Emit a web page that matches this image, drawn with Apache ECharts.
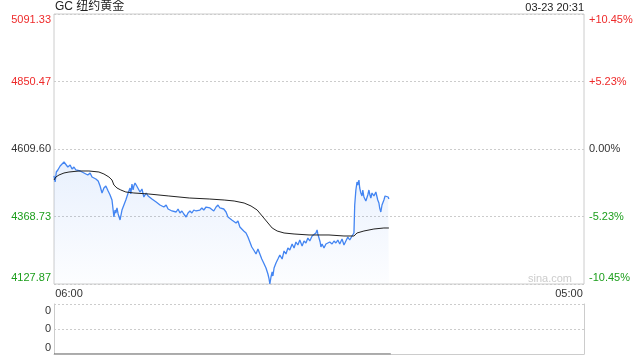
<!DOCTYPE html>
<html><head><meta charset="utf-8">
<script src="https://cdn.jsdelivr.net/npm/echarts@6/dist/echarts.min.js"></script>
<style>html,body{margin:0;padding:0;background:#fff}#c{width:640px;height:360px}</style>
</head><body><div id="c"></div>
<script>
const chartTitle = 'GC 纽约黄金';
const stamp = '03-23 20:31';
const watermark = 'sina.com';
const prevClose = 4609.60;
const priceMin = 4127.87;
const priceMax = 5091.33;
const leftLabels = ['4127.87', '4368.73', '4609.60', '4850.47', '5091.33'];
const rightLabels = ['-10.45%', '-5.23%', '0.00%', '+5.23%', '+10.45%'];
const xLabels = ['06:00', '05:00'];
const sessionMinutes = 1380;
const volLabels = ['0', '0', '0'];

const priceTimes = [0,3,6,10,16,21,26,31,36,42,47,52,57,62,68,73,78,83,88,94,99,104,109,115,120,125,130,135,141,146,151,154,156,159,161,164,167,172,177,182,187,193,198,200,203,206,208,211,214,219,224,229,234,240,245,250,255,260,266,271,276,281,286,292,297,302,307,312,318,323,328,333,338,344,349,354,359,364,370,375,380,385,390,396,401,406,411,416,422,427,432,437,442,448,453,458,463,468,474,479,484,489,494,500,505,510,515,520,526,531,536,541,546,552,557,560,562,565,568,570,573,578,583,588,594,599,604,609,614,620,625,630,635,640,646,651,656,661,666,672,677,682,685,687,690,693,695,698,703,708,713,718,724,729,734,739,744,750,755,760,765,770,776,781,783,786,789,791,794,796,799,802,804,807,812,817,820,822,825,828,833,838,843,846,848,851,854,859,862,864,867,870,872];
const prices = [4513.3,4491.9,4527.5,4534.7,4548.9,4552.5,4563.2,4556.1,4545.4,4552.5,4538.2,4545.4,4534.7,4541.8,4531.1,4538.2,4524.0,4531.1,4516.8,4524.0,4509.7,4516.8,4502.6,4495.4,4477.6,4452.6,4470.4,4477.6,4459.7,4445.5,4427.6,4391.9,4366.9,4391.9,4381.2,4399.1,4377.7,4356.3,4391.9,4409.8,4427.6,4452.6,4470.4,4449.0,4484.7,4463.3,4477.6,4488.3,4481.1,4474.0,4456.2,4466.9,4438.3,4452.6,4441.9,4449.0,4431.2,4438.3,4420.5,4427.6,4409.8,4416.9,4402.6,4409.8,4395.5,4402.6,4388.4,4395.5,4384.8,4395.5,4381.2,4388.4,4377.7,4366.9,4381.2,4388.4,4381.2,4391.9,4388.4,4395.5,4391.9,4399.1,4391.9,4402.6,4395.5,4399.1,4406.2,4388.4,4402.6,4409.8,4399.1,4406.2,4395.5,4384.8,4366.9,4374.0,4356.3,4363.4,4345.5,4352.7,4331.3,4338.4,4317.0,4309.9,4295.6,4277.8,4259.9,4249.2,4235.0,4252.8,4235.0,4217.1,4202.9,4185.0,4163.6,4145.8,4127.9,4152.9,4170.7,4156.4,4185.0,4202.9,4217.1,4231.4,4217.1,4245.6,4235.0,4256.4,4249.2,4270.6,4256.4,4277.8,4267.1,4284.9,4263.5,4281.4,4274.2,4292.1,4281.4,4299.2,4295.6,4309.9,4320.6,4306.3,4292.1,4277.8,4259.9,4270.6,4256.4,4270.6,4263.5,4277.8,4270.6,4281.4,4274.2,4284.9,4270.6,4288.5,4267.1,4281.4,4295.6,4284.9,4299.2,4309.9,4409.8,4463.3,4491.9,4481.1,4498.9,4470.4,4452.6,4441.9,4463.3,4438.3,4424.1,4445.5,4463.3,4449.0,4434.8,4452.6,4441.9,4456.2,4427.6,4416.9,4399.1,4384.8,4409.8,4427.6,4441.9,4445.5,4434.8,4438.3,4431.2];

const avgTimes = [0,5,13,26,39,65,91,117,130,143,151,156,164,174,187,208,247,299,352,404,443,469,495,513,529,542,555,568,581,599,625,664,716,755,781,789,807,833,859,872];
const avgPrices = [4499.0,4509.7,4516.8,4524.0,4527.5,4531.1,4531.1,4527.5,4520.4,4509.7,4499.0,4481.1,4470.4,4463.3,4456.2,4452.6,4449.0,4441.9,4434.8,4431.2,4427.6,4424.1,4416.9,4406.2,4391.9,4370.5,4349.1,4327.7,4317.0,4309.9,4306.3,4302.8,4302.8,4299.2,4299.2,4309.9,4317.0,4324.1,4327.7,4327.7];

const volTimes = [0, 877];
const volValues = [0, 0];

// y plotted as offset from previous close so ticks line up on the axis scale
const half = priceMax - prevClose;
const step = half / 2;
const priceData = priceTimes.map((t, i) => [t, prices[i] - prevClose]);
const avgData = avgTimes.map((t, i) => [t, avgPrices[i] - prevClose]);
const volData = volTimes.map((t, i) => [t, volValues[i]]);

const RED = '#ee2a2a', GREEN = '#1c9e1c', DARK = '#333';
const FONT = 'Arial, "Liberation Sans", Helvetica, sans-serif';

const richY = {
  upT: {color: RED, padding: [12, 0, 0, 0], fontSize: 11, fontFamily: FONT},
  up: {color: RED, fontSize: 11, fontFamily: FONT},
  mid: {color: DARK, fontSize: 11, fontFamily: FONT},
  dn: {color: GREEN, fontSize: 11, fontFamily: FONT},
  dnB: {color: GREEN, padding: [0, 0, 12, 0], fontSize: 11, fontFamily: FONT}
};
const keyFor = ['dnB', 'dn', 'mid', 'up', 'upT'];

const chart = echarts.init(document.getElementById('c'), null, {renderer: 'canvas'});
chart.setOption({
  animation: false,
  backgroundColor: '#fff',
  textStyle: {fontFamily: FONT},
  grid: [
    {left: 54, width: 530, top: 14, height: 270, show: true, borderColor: '#ccc', borderWidth: 1, containLabel: false},
    {left: 54, width: 530, top: 304, height: 50, containLabel: false}
  ],
  xAxis: [
    {type: 'value', gridIndex: 0, min: 0, max: sessionMinutes, interval: sessionMinutes,
     axisLine: {show: false}, axisTick: {show: false}, splitLine: {show: false},
     axisLabel: {margin: 4, fontSize: 11, color: DARK, fontFamily: FONT,
       formatter: (v) => v === 0 ? '{l|' + xLabels[0] + '}' : '{r|' + xLabels[1] + '}',
       rich: {l: {padding: [0, 0, 0, 30], fontSize: 11, color: DARK, fontFamily: FONT},
              r: {padding: [0, 30, 0, 0], fontSize: 11, color: DARK, fontFamily: FONT}}}},
    {type: 'value', gridIndex: 1, min: 0, max: sessionMinutes,
     axisLine: {show: true, lineStyle: {color: '#ccc'}}, axisTick: {show: false},
     splitLine: {show: false}, axisLabel: {show: false}}
  ],
  yAxis: [
    {type: 'value', gridIndex: 0, min: -half, max: half, interval: step,
     axisLine: {show: false}, axisTick: {show: false},
     splitLine: {show: true, lineStyle: {color: '#ccc', type: [2, 2], width: 1}},
     axisLabel: {margin: 3, fontSize: 11, fontFamily: FONT,
       formatter: (v, i) => '{' + keyFor[i] + '|' + leftLabels[i] + '}', rich: richY}},
    {type: 'value', gridIndex: 0, position: 'right', min: -half, max: half, interval: step,
     axisLine: {show: false}, axisTick: {show: false}, splitLine: {show: false},
     axisLabel: {margin: 5, fontSize: 11, fontFamily: FONT,
       formatter: (v, i) => '{' + keyFor[i] + '|' + rightLabels[i] + '}', rich: richY}},
    {type: 'value', gridIndex: 1, min: 0, max: 2, interval: 1,
     axisLine: {show: true, lineStyle: {color: '#ccc'}}, axisTick: {show: false},
     splitLine: {show: true, lineStyle: {color: '#ccc', type: [2, 2], width: 1}},
     axisLabel: {margin: 3, fontSize: 11, color: DARK, fontFamily: FONT,
       formatter: (v, i) => (i === 0 ? '{b|' : i === 2 ? '{t|' : '{m|') + volLabels[i] + '}',
       rich: {t: {padding: [14, 0, 0, 0], color: DARK, fontSize: 11, fontFamily: FONT},
              m: {color: DARK, fontSize: 11, fontFamily: FONT},
              b: {padding: [0, 0, 12, 0], color: DARK, fontSize: 11, fontFamily: FONT}}}},
    {type: 'value', gridIndex: 1, position: 'right', min: 0, max: 2, interval: 1,
     axisLine: {show: true, lineStyle: {color: '#ccc'}}, axisTick: {show: false},
     splitLine: {show: false}, axisLabel: {show: false}}
  ],
  series: [
    {type: 'line', xAxisIndex: 0, yAxisIndex: 0, data: priceData, showSymbol: false, symbol: 'none',
     lineStyle: {color: '#4385f2', width: 1.3}, itemStyle: {color: '#4385f2'},
     areaStyle: {origin: 'start', color: new echarts.graphic.LinearGradient(0, 0, 0, 1, [
       {offset: 0, color: 'rgba(67,133,242,0.17)'}, {offset: 1, color: 'rgba(67,133,242,0.02)'}])},
     z: 3},
    {type: 'line', xAxisIndex: 0, yAxisIndex: 0, data: avgData, showSymbol: false, symbol: 'none',
     lineStyle: {color: '#222', width: 1}, itemStyle: {color: '#222'}, z: 4},
    {type: 'line', xAxisIndex: 1, yAxisIndex: 2, data: volData, showSymbol: false, symbol: 'none',
     lineStyle: {color: '#555', width: 1}, itemStyle: {color: '#555'}, z: 4}
  ],
  graphic: [
    {type: 'text', left: 55, top: 1, style: {text: chartTitle, fontSize: 12, fill: '#222', fontFamily: FONT + ', "Noto Sans CJK SC"'}},
    {type: 'text', right: 56, top: 2, style: {text: stamp, fontSize: 11, fill: '#222', fontFamily: FONT}},
    {type: 'text', right: 68, top: 273, style: {text: watermark, fontSize: 11, fill: '#ccc', fontFamily: FONT}}
  ]
});
</script></body></html>
